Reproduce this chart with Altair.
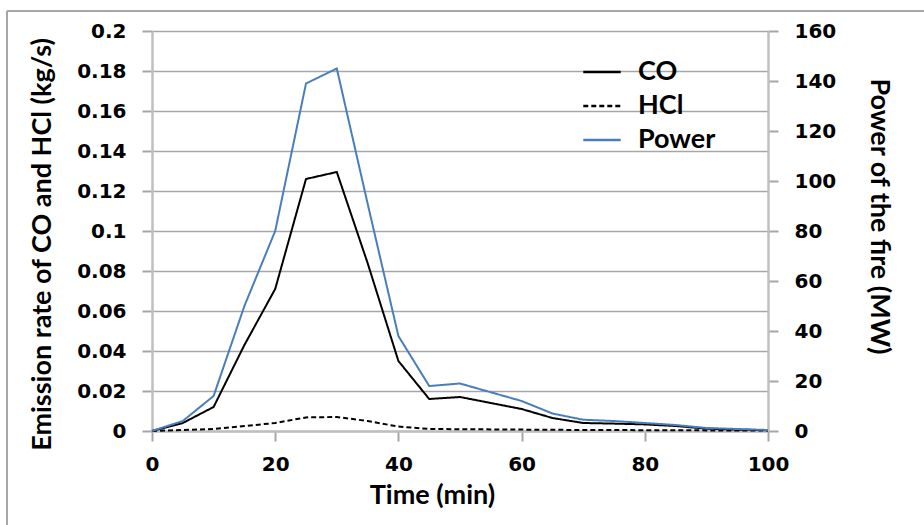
import altair as alt
import pandas as pd

# ---- data ----
time = [0, 5, 10, 15, 20, 25, 30, 35, 40, 45, 50, 55, 60, 65, 70, 75, 80, 85, 90, 95, 100]
co = [0, 0.004, 0.012, 0.043, 0.071, 0.126, 0.1295, 0.084, 0.035, 0.016, 0.017, 0.014,
      0.011, 0.0065, 0.004, 0.0037, 0.0033, 0.0025, 0.0012, 0.0007, 0.0004]
hcl = [0, 0.0005, 0.001, 0.0025, 0.004, 0.0068, 0.0070, 0.005, 0.0022, 0.001, 0.0009, 0.0008,
       0.0007, 0.0006, 0.0005, 0.0005, 0.0004, 0.0004, 0.0003, 0.0002, 0.0002]
power = [0, 4, 14, 50, 80, 139, 145, 91, 38, 18, 19, 15.5, 12, 7, 4.5, 4, 3.2, 2.4, 1.2, 0.8, 0.4]

series_names = ["CO", "HCl", "Power"]
series_colors = ["#000000", "#000000", "#4a7ebb"]
series_dash = [[1, 0], [5, 3], [1, 0]]

left_ticks = [0, 0.02, 0.04, 0.06, 0.08, 0.1, 0.12, 0.14, 0.16, 0.18, 0.2]
right_ticks = [0, 20, 40, 60, 80, 100, 120, 140, 160]
x_ticks = [0, 20, 40, 60, 80, 100]

n = len(time)
df_left = pd.DataFrame({"time": time * 2, "value": co + hcl,
                        "series": ["CO"] * n + ["HCl"] * n})
df_right = pd.DataFrame({"time": time, "value": power, "series": ["Power"] * n})

TICK_FONT = "DejaVu Sans"
TITLE_FONT = "Lato"

legend = alt.Legend(title=None, orient="none", legendX=430, legendY=21,
                    symbolType="stroke", symbolSize=1400, symbolStrokeWidth=2.5,
                    labelFont=TITLE_FONT, labelFontSize=27, labelFontWeight="bold",
                    labelColor="black", labelOffset=16, rowPadding=1, padding=0)

color = alt.Color("series:N", scale=alt.Scale(domain=series_names, range=series_colors),
                  legend=legend)
dash = alt.StrokeDash("series:N", scale=alt.Scale(domain=series_names, range=series_dash),
                      legend=legend)

x_enc = alt.X("time:Q", scale=alt.Scale(domain=[0, 100], nice=False),
              axis=alt.Axis(values=x_ticks, title="Time (min)", grid=False,
                            titleX=280, titleY=72, titleBaseline="alphabetic",
                            titleAlign="center", labelPadding=13, labelFlush=False))

left_lines = alt.Chart(df_left).mark_line(strokeWidth=2).encode(
    x=x_enc,
    y=alt.Y("value:Q", scale=alt.Scale(domain=[0, 0.2], nice=False),
            axis=alt.Axis(values=left_ticks, format=".2~f", orient="left",
                          title="Emission rate of CO and HCl (kg/s)",
                          titleX=-96, titleY=213, titleAngle=270,
                          titleAlign="center", titleBaseline="bottom",
                          grid=True, labelPadding=16, labelFlush=False)),
    color=color,
    strokeDash=dash,
    detail="series:N",
)

right_line = alt.Chart(df_right).mark_line(strokeWidth=2).encode(
    x=alt.X("time:Q", scale=alt.Scale(domain=[0, 100], nice=False)),
    y=alt.Y("value:Q", scale=alt.Scale(domain=[0, 160], nice=False),
            axis=alt.Axis(values=right_ticks, orient="right",
                          title="Power of the fire (MW)",
                          titleX=96, titleY=185, titleAngle=90,
                          titleAlign="center", titleBaseline="bottom",
                          grid=False, labelPadding=16, labelFlush=False)),
    color=color,
    strokeDash=dash,
)

frame_df = pd.DataFrame({"k": [0]})
frame_v = alt.Chart(frame_df).mark_rule(color="#a6a6a6", strokeWidth=2).encode(
    x=alt.value(-145), y=alt.value(-20), y2=alt.value(494))
frame_h = alt.Chart(frame_df).mark_rule(color="#a6a6a6", strokeWidth=2).encode(
    x=alt.value(-145), x2=alt.value(772), y=alt.value(-20))

chart = alt.layer(left_lines, right_line, frame_v, frame_h).resolve_scale(
    y="independent"
).properties(
    width=616, height=400,
    autosize=alt.AutoSizeParams(type="none"),
    padding={"left": 152, "top": 31, "right": 156, "bottom": 94},
    background="white",
).configure_view(
    strokeWidth=0
).configure_axis(
    labelFont=TICK_FONT, labelFontSize=20, labelFontWeight="bold", labelColor="black",
    titleFont=TITLE_FONT, titleFontSize=27, titleFontWeight="bold", titleColor="black",
    domainColor="#bfbfbf", domainWidth=2.5,
    tickColor="#a6a6a6", tickWidth=2, tickSize=10,
    gridColor="#a6a6a6", gridWidth=1.5,
)

chart.save("out.html", embed_options={"renderer": "svg", "actions": False})
